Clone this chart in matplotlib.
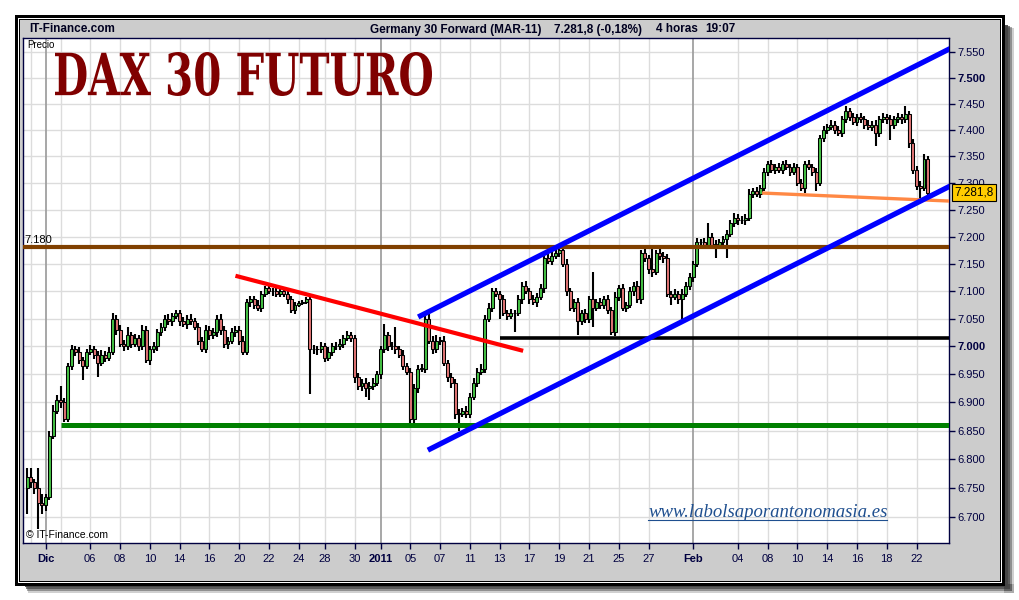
import numpy as np
import pandas as pd
import matplotlib
matplotlib.use('Agg')
import matplotlib.pyplot as plt
from matplotlib.patches import Rectangle, PathPatch
from matplotlib.textpath import TextPath
from matplotlib.font_manager import FontProperties
from matplotlib.transforms import Affine2D, blended_transform_factory
from matplotlib.lines import Line2D

plt.rcParams['font.family'] = ['Liberation Sans', 'DejaVu Sans']

W, H = 1020, 600

# 4-hour sessions, Nov 29 2010 .. Feb 22 2011
first_session = '2010-11-29'
last_session = '2011-02-22'
short_sessions = {'2010-11-29': 1, '2010-12-24': 3, '2010-12-31': 3}

first_open = 6750
closes = [
    6770, 6760, 6750, 6725, 6720,
    6735, 6840, 6885, 6905,
    6900, 6870, 6965, 6995,
    6990, 6975, 6965, 6990,
    6995, 6985, 6970, 6985,
    6980, 6990, 7050, 7030,
    7005, 7000, 7020, 7005,
    7015, 7000, 7030, 6975,
    6995, 7000, 7025, 7035,
    7050, 7045, 7055, 7060,
    7045, 7040, 7050, 7045,
    7035, 7010, 6995, 7030,
    7020, 7025, 7050, 7030,
    7005, 7010, 7025, 7030,
    7010, 6990, 7080, 7085,
    7075, 7070, 7095, 7105,
    7100, 7100, 7095, 7100,
    7095, 7085, 7065, 7075,
    7078, 7080, 7085,
    6995, 6995, 6995, 7000,
    6980, 6990, 7000, 7000,
    7005, 7015, 7020, 7015,
    6945, 6930, 6935, 6925,
    6930, 6935, 6950,
    6995, 7020, 7000, 7000,
    6995, 6985, 6965, 6955,
    6870, 6925, 6960, 6960,
    7050, 7010, 6995, 7010,
    7010, 6970, 6945, 6935,
    6880, 6880, 6885, 6880,
    6910, 6935, 6955, 6960,
    7050, 7070, 7100, 7095,
    7085, 7060, 7055, 7060,
    7060, 7085, 7110, 7100,
    7085, 7080, 7090, 7105,
    7160, 7155, 7165, 7170,
    7175, 7150, 7100, 7070,
    7080, 7045, 7060, 7050,
    7085, 7070, 7080, 7075,
    7085, 7065, 7025, 7090,
    7105, 7070, 7075, 7100,
    7110, 7085, 7170, 7160,
    7140, 7135, 7170, 7165,
    7160, 7095, 7090, 7095,
    7085, 7095, 7110, 7125,
    7150, 7190, 7190, 7185,
    7200, 7185, 7185, 7190,
    7195, 7205, 7225, 7235,
    7230, 7230, 7235, 7280,
    7285, 7280, 7290, 7320,
    7335, 7325, 7330, 7325,
    7335, 7330, 7320, 7330,
    7300, 7290, 7335, 7330,
    7320, 7300, 7385, 7400,
    7405, 7410, 7400, 7395,
    7420, 7435, 7425, 7415,
    7425, 7420, 7410, 7405,
    7410, 7395, 7420, 7425,
    7420, 7410, 7420, 7425,
    7420, 7430, 7375, 7325,
    7295, 7290, 7345, 7281.8,
]
# wick lengths (points above / below the body)
upper_wick = [
    15, 15, 5, 35, 15,
    5, 10, 10, 8,
    25, 8, 5, 8,
    6, 8, 6, 6,
    8, 6, 6, 8,
    6, 8, 10, 6,
    8, 6, 15, 6,
    8, 6, 8, 6,
    6, 8, 6, 8,
    6, 8, 6, 5,
    6, 8, 6, 8,
    6, 8, 6, 8,
    6, 8, 6, 8,
    6, 6, 8, 6,
    6, 8, 5, 6,
    6, 8, 6, 5,
    6, 5, 6, 5,
    6, 8, 6, 6,
    4, 4, 4,
    5, 8, 6, 8,
    6, 8, 6, 8,
    8, 6, 8, 6,
    6, 8, 6, 8,
    6, 8, 6,
    6, 20, 6, 8,
    35, 6, 8, 6,
    6, 8, 6, 8,
    5, 10, 8, 10,
    6, 8, 6, 8,
    6, 8, 6, 8,
    6, 8, 6, 8,
    6, 8, 5, 6,
    6, 8, 6, 8,
    6, 8, 6, 8,
    6, 8, 6, 8,
    6, 8, 6, 8,
    5, 6, 8, 6,
    6, 8, 6, 8,
    6, 50, 6, 8,
    6, 8, 6, 8,
    6, 8, 6, 8,
    6, 8, 6, 8,
    6, 45, 6, 8,
    6, 8, 6, 8,
    6, 8, 6, 8,
    6, 8, 6, 8,
    25, 6, 8, 6,
    6, 8, 6, 8,
    6, 8, 6, 8,
    6, 8, 6, 8,
    6, 8, 6, 8,
    6, 8, 6, 8,
    6, 8, 6, 8,
    6, 8, 6, 8,
    6, 8, 6, 8,
    6, 10, 6, 8,
    6, 8, 6, 8,
    6, 8, 6, 8,
    6, 8, 6, 8,
    6, 15, 6, 8,
    6, 8, 10, 6,
]
lower_wick = [
    45, 10, 10, 45, 15,
    10, 5, 5, 5,
    10, 5, 5, 8,
    8, 6, 25, 6,
    6, 8, 25, 6,
    8, 6, 6, 10,
    6, 8, 6, 8,
    6, 8, 6, 5,
    8, 6, 8, 6,
    8, 6, 8, 6,
    8, 6, 8, 6,
    6, 8, 5, 6,
    8, 6, 8, 10,
    8, 10, 6, 8,
    8, 5, 6, 8,
    8, 6, 8, 6,
    6, 8, 6, 6,
    6, 8, 5, 6,
    4, 4, 4,
    80, 8, 10, 6,
    8, 6, 8, 6,
    6, 8, 6, 8,
    10, 8, 10, 15,
    20, 8, 6,
    8, 6, 8, 6,
    8, 6, 8, 6,
    15, 6, 8, 6,
    8, 6, 8, 6,
    8, 6, 8, 10,
    10, 30, 6, 8,
    8, 6, 8, 6,
    8, 6, 8, 6,
    35, 6, 8, 6,
    35, 6, 8, 6,
    8, 6, 8, 6,
    8, 6, 8, 6,
    8, 6, 8, 6,
    8, 25, 6, 8,
    8, 35, 6, 8,
    8, 6, 5, 6,
    8, 6, 8, 6,
    8, 6, 8, 6,
    8, 10, 6, 8,
    8, 6, 15, 6,
    8, 35, 6, 8,
    8, 6, 8, 6,
    8, 6, 25, 6,
    8, 35, 6, 8,
    8, 6, 8, 6,
    8, 6, 8, 6,
    8, 6, 8, 6,
    8, 6, 8, 6,
    5, 5, 8, 6,
    8, 15, 6, 8,
    8, 6, 8, 6,
    8, 6, 8, 6,
    8, 6, 8, 6,
    8, 25, 8, 6,
    8, 30, 8, 6,
    8, 6, 10, 8,
    8, 20, 6, 10,
]

tick_dates = ['2010-12-01', '2010-12-06', '2010-12-08', '2010-12-10', '2010-12-14',
              '2010-12-16', '2010-12-20', '2010-12-22', '2010-12-24', '2010-12-28',
              '2010-12-30', '2011-01-03', '2011-01-05', '2011-01-07', '2011-01-11',
              '2011-01-13', '2011-01-17', '2011-01-19', '2011-01-21', '2011-01-25',
              '2011-01-27', '2011-02-01', '2011-02-04', '2011-02-08', '2011-02-10',
              '2011-02-14', '2011-02-16', '2011-02-18', '2011-02-22']
tick_labels = ['Dic', '06', '08', '10', '14', '16', '20', '22', '24', '28', '30',
               '2011', '05', '07', '11', '13', '17', '19', '21', '25', '27',
               'Feb', '04', '08', '10', '14', '16', '18', '22']
bold_labels = ['Dic', '2011', 'Feb']
extra_grid_dates = ['2010-11-30', '2010-12-02']

price_ticks = [6700, 6750, 6800, 6850, 6900, 6950, 7000, 7050, 7100, 7150,
               7200, 7250, 7300, 7350, 7400, 7450, 7500, 7550]
bold_prices = [7000, 7500]

# drawn analysis lines (bar index, price)
red_line = ([51, 128.3], [7128, 6992])
blue_top = ([100.1, 243], [7053, 7556])
blue_bottom = ([102.7, 243], [6816, 7294])
orange_line = ([192.5, 243], [7281, 7266])
level_brown = 7180
level_black = (122, 7015)
level_green = (4, 6860)
last_price = 7281.8

# ---- session / bar positions
sessions = pd.bdate_range(first_session, last_session)
per_day = [short_sessions.get(d.strftime('%Y-%m-%d'), 4) for d in sessions]
starts = np.concatenate([[0], np.cumsum(per_day)[:-1]])
day_start = dict(zip([d.strftime('%Y-%m-%d') for d in sessions], starts))
origin = day_start['2010-12-01']

def bar_of(date):
    return day_start[date] - origin

closes = np.array(closes, dtype=float)
opens = np.concatenate([[first_open], closes[:-1]])
highs = np.maximum(opens, closes) + np.array(upper_wick)
lows = np.minimum(opens, closes) - np.array(lower_wick)
x = np.arange(len(closes)) - origin

fig = plt.figure(figsize=(W / 100, H / 100), dpi=100)
fig.patch.set_facecolor('white')

def fig_rect(x0, y0, x1, y1, **kw):
    r = Rectangle((x0 / W, 1 - y1 / H), (x1 - x0) / W, (y1 - y0) / H,
                  transform=fig.transFigure, **kw)
    fig.add_artist(r)

# drop shadow
for i, a in enumerate([0.25, 0.45, 0.7, 0.9]):
    fig_rect(1004, 25 + 3 - i, 1014 - i * 2, 593 - i * 2, fc='#444444', ec='none', alpha=a, zorder=-20 + i)
    fig_rect(25 + 3 - i, 584, 1014 - i * 2, 593 - i * 2, fc='#444444', ec='none', alpha=a, zorder=-20 + i)
# frame
fig_rect(15, 15, 1005, 586, fc='black', ec='none', zorder=-10)
fig_rect(18, 18, 1002, 583, fc='white', ec='none', zorder=-9)
fig_rect(19, 19, 1001, 582, fc='black', ec='none', zorder=-8)
fig_rect(20, 20, 1000, 581, fc='#cccccc', ec='none', zorder=-7)

# header
hdr = dict(fontsize=8.5, fontweight='bold', color='#000020', va='center', ha='left')
fig.text(29 / W, 1 - 29.5 / H, 'IT-Finance.com', **hdr)
fig.text(370 / W, 1 - 29.5 / H, 'Germany 30 Forward (MAR-11)', **hdr)
fig.text(554 / W, 1 - 29.5 / H, '7.281,8 (-0,18%)', **hdr)
fig.text(656 / W, 1 - 29.5 / H, '4 horas', **hdr)
fig.text(705 / W, 1 - 29.5 / H, '19:07', **hdr)

ax = fig.add_axes([23.3 / W, 1 - 542.7 / H, 926 / W, 504.4 / H])
ax.set_facecolor('white')
ax.set_yscale('log')
ax.set_ylim(6656, 7576)
ax.set_xlim(-6.0, 242.8)

navy = '#000040'
for s in ax.spines.values():
    s.set_color(navy)
    s.set_linewidth(1)

# grid
for p in price_ticks:
    ax.axhline(p, color='#dcdcdc', lw=1, zorder=0)
for d, lab in zip(tick_dates, tick_labels):
    if lab in bold_labels:
        ax.axvline(bar_of(d), color='#a0a0a0', lw=1.3, zorder=0.5)
    else:
        ax.axvline(bar_of(d), color='#dcdcdc', lw=1, zorder=0)
for d in extra_grid_dates:
    ax.axvline(bar_of(d), color='#dcdcdc', lw=1, zorder=0)

# candles
up = closes >= opens
ax.vlines(x, lows, highs, color='black', lw=1.5, zorder=2)
body_h = np.maximum(np.abs(closes - opens), 0.8)
ax.bar(x, body_h, bottom=np.minimum(opens, closes), width=0.8,
       color=np.where(up, '#44c044', '#e07474'), edgecolor='black',
       linewidth=0.75, zorder=3)

# analysis lines
ax.axhline(level_brown, color='#804000', lw=3, zorder=5)
ax.plot([level_green[0], 260], [level_green[1]] * 2, color='#008000', lw=3.6, zorder=5,
        solid_capstyle='butt')
ax.plot([level_black[0], 260], [level_black[1]] * 2, color='black', lw=2.6, zorder=5,
        solid_capstyle='butt')
ax.plot(*red_line, color='#ff0000', lw=3, zorder=5, solid_capstyle='butt')
ax.plot(*blue_top, color='#0000ff', lw=3.8, zorder=5, solid_capstyle='butt')
ax.plot(*blue_bottom, color='#0000ff', lw=3.8, zorder=5, solid_capstyle='butt')
ax.plot(*orange_line, color='#ff8844', lw=2.4, zorder=4.5, solid_capstyle='butt')

# axes ticks
ax.yaxis.tick_right()
ax.set_yticks(price_ticks)
ax.set_yticklabels([f'{p:,}'.replace(',', '.') for p in price_ticks])
ax.minorticks_off()
for lbl, p in zip(ax.get_yticklabels(), price_ticks):
    if p in bold_prices:
        lbl.set_fontweight('bold')
        lbl.set_fontsize(9)
ax.set_xticks([bar_of(d) for d in tick_dates])
ax.set_xticklabels(tick_labels)
for lbl in ax.get_xticklabels():
    if lbl.get_text() in bold_labels:
        lbl.set_fontweight('bold')
        lbl.set_fontsize(9)
ax.tick_params(axis='both', direction='out', length=4, width=1, color=navy,
               labelcolor=navy, labelsize=8)
ax.tick_params(axis='y', pad=2)
ax.tick_params(axis='x', pad=4)

# in-plot texts
ax.text(0.004, 0.997, 'Precio', transform=ax.transAxes, fontsize=7, va='top', ha='left')
ax.text(0.003, 0.005, '\u00a9 IT-Finance.com', transform=ax.transAxes, fontsize=7.5,
        va='bottom', ha='left')
ax.text(-5.6, level_brown * 1.0006, '7.180', fontsize=8, va='bottom', ha='left', zorder=6)
tr = blended_transform_factory(ax.transAxes, ax.transData)
ax.text(1.0055, last_price, '7.281,8', transform=tr, fontsize=8.5, va='center', ha='left',
        bbox=dict(boxstyle='square,pad=0.18', fc='#ffcc00', ec='black', lw=0.8), zorder=10,
        clip_on=False)
wm = ax.text(0.804, 0.06, 'www.labolsaporantonomasia.es', transform=ax.transAxes,
             fontsize=13.5, family='Liberation Serif', style='italic', color='#1f4f8f',
             ha='center', va='center', zorder=10)

# title
fp = FontProperties(family='DejaVu Serif', weight='bold')
tp = TextPath((0, 0), 'DAX 30 FUTURO', size=100, prop=fp)
ext = tp.get_extents()
t = (Affine2D().translate(-ext.x0, -ext.y0)
     .scale(377 / ext.width, 44 / ext.height)
     .translate(55, H - 96)
     .scale(1 / W, 1 / H))
fig.add_artist(PathPatch(tp, transform=t + fig.transFigure, fc='#800000', ec='none', zorder=10))

# underline for the watermark
fig.canvas.draw()
bb = wm.get_window_extent()
y_ul = bb.y0 + 1
fig.add_artist(Line2D([bb.x0 / W, bb.x1 / W], [y_ul / H, y_ul / H], color='#1f4f8f',
                      lw=0.8, transform=fig.transFigure, zorder=10))

fig.savefig('out.png', dpi=100, facecolor='white')
